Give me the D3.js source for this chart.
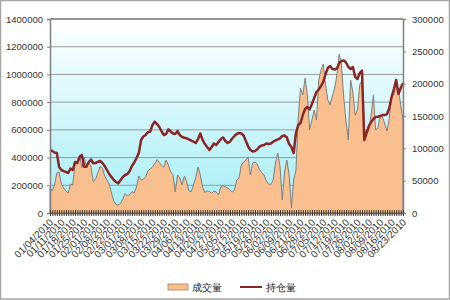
<!DOCTYPE html>
<html>
<head>
<meta charset="utf-8">
<script src="https://cdn.jsdelivr.net/npm/d3@7"></script>
<style>
  body { margin: 0; background: #fff; }
  svg text { font-family: "Liberation Sans", Arial, sans-serif; }
</style>
</head>
<body>
<svg id="chart" width="450" height="300"></svg>
<script>
const width = 450;
const height = 300;

// weekly labels, every 5th trading day
const dateLabels = ["01/04/2010", "01/11/2010", "01/18/2010", "01/25/2010", "02/01/2010", "02/08/2010",
    "02/22/2010", "03/01/2010", "03/08/2010", "03/15/2010", "03/22/2010", "03/29/2010", "04/06/2010",
    "04/13/2010", "04/20/2010", "04/27/2010", "05/05/2010", "05/12/2010", "05/19/2010", "05/26/2010",
    "06/02/2010", "06/09/2010", "06/21/2010", "06/28/2010", "07/05/2010", "07/12/2010", "07/19/2010",
    "07/26/2010", "08/02/2010", "08/09/2010", "08/16/2010", "08/23/2010"];

// 成交量 (left axis)
const volume = [180000,159000,202000,289000,296000,209000,180000,159000,144000,209000,
    202000,361000,375000,419000,325000,404000,332000,361000,339000,226000,
    245000,289000,334000,325000,267000,238000,209000,144000,87000,61000,
    58000,69000,101000,141000,123000,134000,155000,144000,188000,267000,
    238000,245000,263000,303000,318000,332000,357000,386000,364000,343000,
    332000,382000,346000,296000,278000,152000,274000,253000,202000,267000,
    224000,159000,154000,202000,253000,332000,274000,188000,148000,159000,
    155000,142000,159000,152000,130000,188000,198000,190000,180000,166000,
    152000,166000,238000,253000,346000,368000,382000,404000,274000,361000,
    368000,354000,310000,292000,274000,231000,209000,206000,238000,361000,
    433000,334000,94000,296000,382000,274000,36000,238000,310000,686000,
    902000,852000,974000,852000,599000,671000,743000,671000,960000,1032000,
    1075000,924000,815000,779000,844000,902000,996000,1147000,1068000,830000,
    657000,527000,960000,873000,707000,743000,924000,960000,599000,577000,
    599000,707000,852000,599000,613000,707000,693000,642000,592000,686000,
    859000,852000,945000,888000,779000,671000];

// 持仓量 (right axis)
const openInterest = [97400,95900,93600,92800,71100,66500,64900,63400,61900,68800,
    66500,78900,77300,86600,89700,71600,71600,78900,82700,76900,
    77300,78900,80400,77300,72700,66500,60300,55700,51000,47900,
    45900,51000,55700,58800,60300,64900,72700,78100,85100,92800,
    112900,118300,120600,125300,125700,136100,141200,137600,133000,126000,
    120600,122200,129400,126000,122900,122200,126800,120600,117500,116400,
    115500,113700,112100,110300,108200,114400,122900,112900,106700,102100,
    97400,102100,107500,105200,109800,114400,116800,111300,108200,110300,
    115200,119100,122200,123700,122900,119800,111300,102800,97400,95100,
    95900,98200,102800,104400,105200,107500,106700,107500,110300,112100,
    113700,115500,119100,119800,116800,106700,102100,92800,123700,136100,
    139200,151500,160800,163900,160100,168600,177800,187100,191000,196400,
    202600,215000,224200,227300,222700,221900,223500,232000,235000,235800,
    232700,225800,222700,225800,210300,207200,216500,220400,112900,123700,
    134500,140700,145400,148500,148900,150000,151500,151500,153100,162400,
    179400,191800,205700,184000,193300,201000];

const leftTicks = [0, 200000, 400000, 600000, 800000, 1000000, 1200000, 1400000];
const rightTicks = [0, 50000, 100000, 150000, 200000, 250000, 300000];
const legendNames = ["成交量", "持仓量"];

const plot = {left: 50, right: 403, top: 19, bottom: 213};

const svg = d3.select("#chart");

// outer frame
svg.append("rect")
    .attr("x", 0.5).attr("y", 0.5)
    .attr("width", width - 1).attr("height", height - 1.5)
    .attr("fill", "#fff")
    .attr("stroke", "#a6a6a6")
    .attr("stroke-width", 1.5);

// plot background gradient
const grad = svg.append("defs").append("linearGradient")
    .attr("id", "bgGrad")
    .attr("x1", 0).attr("y1", 0).attr("x2", 0).attr("y2", 1);
grad.append("stop").attr("offset", "0%").attr("stop-color", "#ffffff");
grad.append("stop").attr("offset", "100%").attr("stop-color", "#a4eef6");

svg.append("rect")
    .attr("x", plot.left).attr("y", plot.top)
    .attr("width", plot.right - plot.left)
    .attr("height", plot.bottom - plot.top)
    .attr("fill", "url(#bgGrad)");

const x = d3.scaleLinear().domain([0, volume.length - 1]).range([plot.left, plot.right]);
const yLeft = d3.scaleLinear().domain([0, 1400000]).range([plot.bottom, plot.top]);
const yRight = d3.scaleLinear().domain([0, 300000]).range([plot.bottom, plot.top]);

// gridlines
svg.append("g")
    .selectAll("line")
    .data(leftTicks.slice(1))
    .enter()
    .append("line")
        .attr("x1", plot.left).attr("x2", plot.right)
        .attr("y1", d => yLeft(d)).attr("y2", d => yLeft(d))
        .attr("stroke", "#9a9a9a")
        .attr("stroke-width", 1);

// volume area
const area = d3.area()
    .x((d, i) => x(i))
    .y0(yLeft(0))
    .y1(d => yLeft(d));

svg.append("path")
    .datum(volume)
    .attr("d", area)
    .attr("fill", "#f9bf8e")
    .attr("stroke", "#7f7f7f")
    .attr("stroke-width", 1);

// open interest line
const line = d3.line()
    .x((d, i) => x(i))
    .y(d => yRight(d));

svg.append("path")
    .datum(openInterest)
    .attr("d", line)
    .attr("fill", "none")
    .attr("stroke", "#8a2626")
    .attr("stroke-width", 2.5)
    .attr("stroke-linejoin", "round");

// plot border lines
svg.append("line")
    .attr("x1", plot.left).attr("x2", plot.right)
    .attr("y1", plot.top).attr("y2", plot.top)
    .attr("stroke", "#808080").attr("stroke-width", 1.5);

// left axis
const leftAxis = svg.append("g")
    .attr("transform", `translate(${plot.left},0)`)
    .call(d3.axisLeft(yLeft).tickValues(leftTicks).tickFormat(d3.format("d")).tickSize(3).tickPadding(4));

// right axis
const rightAxis = svg.append("g")
    .attr("transform", `translate(${plot.right},0)`)
    .call(d3.axisRight(yRight).tickValues(rightTicks).tickFormat(d3.format("d")).tickSize(3).tickPadding(6));

[leftAxis, rightAxis].forEach(function(g){
    g.select(".domain").attr("stroke", "#808080").attr("stroke-width", 1.5);
    g.selectAll(".tick line").attr("stroke", "#808080");
    g.selectAll("text").attr("font-size", "9.5px").attr("fill", "#333")
        .attr("font-family", "'Liberation Sans', Arial, sans-serif");
});

// bottom axis, a tick for every trading day
const bottomAxis = svg.append("g")
    .attr("transform", `translate(0,${plot.bottom})`)
    .call(d3.axisBottom(x).tickValues(d3.range(volume.length)).tickFormat("").tickSizeInner(3).tickSizeOuter(0));
bottomAxis.select(".domain").attr("stroke", "#6b6b6b").attr("stroke-width", 1.5);
bottomAxis.selectAll(".tick line").attr("stroke", "#4a3a2a").attr("y1", -3);

// rotated date labels
svg.append("g")
    .selectAll("text")
    .data(dateLabels)
    .enter()
    .append("text")
        .attr("transform", (d, i) => `translate(${x(i * 5) + 4},${plot.bottom + 10}) rotate(-45)`)
        .attr("text-anchor", "end")
        .attr("font-size", "10px")
        .attr("fill", "#333")
        .text(d => d);

// legend
const legend = svg.append("g");
legend.append("rect")
    .attr("x", 168).attr("y", 284)
    .attr("width", 20).attr("height", 6)
    .attr("fill", "#f9bf8e")
    .attr("stroke", "#b08060")
    .attr("stroke-width", 0.8);
legend.append("text")
    .attr("x", 192).attr("y", 291)
    .attr("font-size", "10px")
    .attr("font-family", "'Noto Sans CJK SC', sans-serif")
    .attr("fill", "#222")
    .text(legendNames[0]);
legend.append("line")
    .attr("x1", 240).attr("x2", 262)
    .attr("y1", 287).attr("y2", 287)
    .attr("stroke", "#8a2626")
    .attr("stroke-width", 2);
legend.append("text")
    .attr("x", 266).attr("y", 291)
    .attr("font-size", "10px")
    .attr("font-family", "'Noto Sans CJK SC', sans-serif")
    .attr("fill", "#222")
    .text(legendNames[1]);
</script>
</body>
</html>
